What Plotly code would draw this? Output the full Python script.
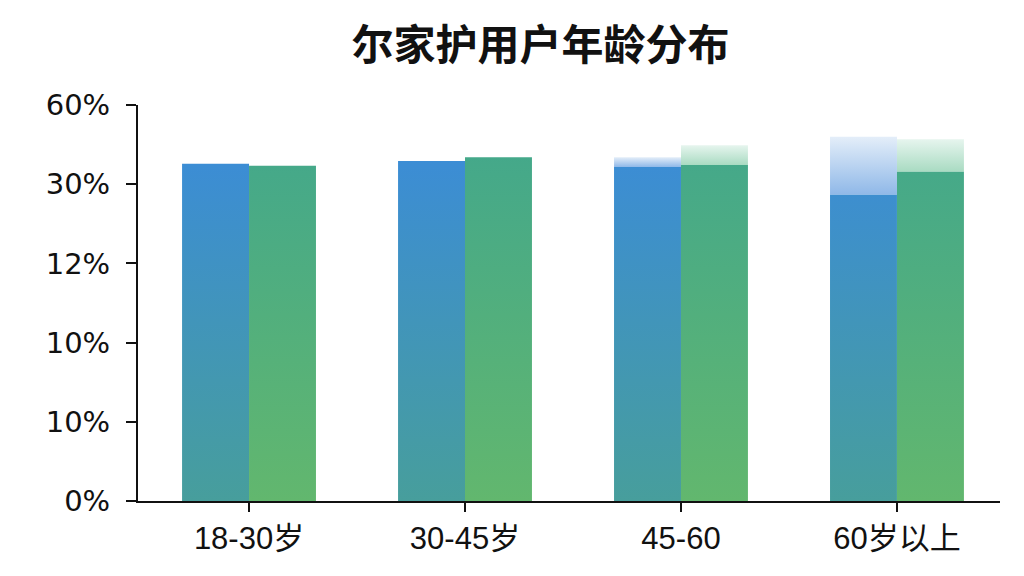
import plotly.graph_objects as go

# age groups and shares (%)
age_groups = ['18-30岁', '30-45岁', '45-60', '60岁以上']
blue_vals = [51.1, 51.5, 50.6, 46.4]
green_vals = [50.8, 52.1, 50.9, 49.9]
# faded "ghost" tops seen above the last two groups
blue_ghost = [None, None, 52.1, 55.2]
green_ghost = [None, None, 53.9, 54.8]

y_tickvals = [0, 12, 24, 36, 48, 60]
y_ticktext = ['0%', '10%', '10%', '12%', '30%', '60%']

BAR_W = 0.31
Y_MAX = 60

blue_grad = [[0, '#479e9c'], [1, '#3a8ade']]
green_grad = [[0, '#62b76e'], [1, '#40a68e']]
blue_ghost_grad = [[0, '#8fb8e8'], [1, '#e4eef9']]
green_ghost_grad = [[0, '#a9dbc2'], [1, '#e6f5ee']]


def rect(fig, x0, x1, y0, y1, grad, start, stop):
    fig.add_trace(go.Scatter(
        x=[x0, x1, x1, x0, x0], y=[y0, y0, y1, y1, y0],
        mode='lines', line=dict(width=0), fill='toself',
        fillgradient=dict(type='vertical', colorscale=grad, start=start, stop=stop),
        hoverinfo='skip', showlegend=False))


fig = go.Figure()

for i, grp in enumerate(age_groups):
    # ghosts first so the real bars sit in front
    if blue_ghost[i] is not None:
        rect(fig, i - BAR_W, i, blue_vals[i], blue_ghost[i], blue_ghost_grad, blue_vals[i], blue_ghost[i])
    if green_ghost[i] is not None:
        rect(fig, i, i + BAR_W, green_vals[i], green_ghost[i], green_ghost_grad, green_vals[i], green_ghost[i])
    rect(fig, i - BAR_W, i, 0, blue_vals[i], blue_grad, 0, Y_MAX)
    rect(fig, i, i + BAR_W, 0, green_vals[i], green_grad, 0, Y_MAX)

# page body adds an 8px offset, margins compensate for it
fig.update_layout(
    width=1024, height=576,
    margin=dict(l=130, r=32, t=97, b=83),
    paper_bgcolor='white', plot_bgcolor='white',
    title=dict(text='尔家护用户年龄分布', x=0.52, xanchor='center', y=0.935, yanchor='middle',
               font=dict(family='Noto Sans CJK SC', size=42, color='#111111', weight='bold')),
    font=dict(family='Liberation Sans', color='#111111'),
)
fig.update_xaxes(
    range=[-0.514, 3.477], tickvals=list(range(len(age_groups))), ticktext=age_groups,
    showline=True, linecolor='#111111', linewidth=2, showgrid=False, zeroline=False,
    ticks='outside', ticklen=9, tickwidth=2, tickcolor='#111111',
    tickfont=dict(family='Liberation Sans, Noto Sans CJK SC', size=31),
)
fig.update_yaxes(
    range=[0, Y_MAX], tickvals=y_tickvals, ticktext=y_ticktext,
    showline=True, linecolor='#111111', linewidth=2, showgrid=False, zeroline=False,
    ticks='outside', ticklen=10, tickwidth=2, tickcolor='#111111',
    tickfont=dict(family='DejaVu Sans', size=29), ticklabelstandoff=10,
)

fig.write_html('out.html')
